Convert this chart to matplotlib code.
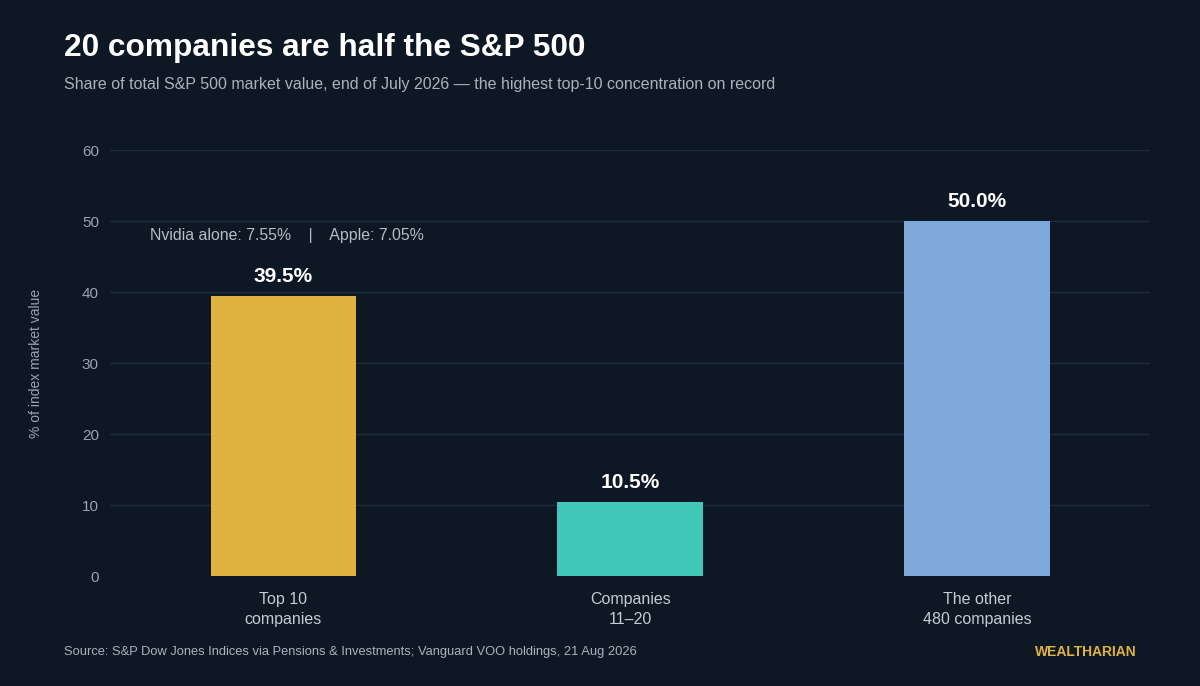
import matplotlib
matplotlib.use("Agg")
import matplotlib.pyplot as plt

plt.rcParams["font.family"] = ["Liberation Sans", "DejaVu Sans"]

CATS = ["Top 10\ncompanies", "Companies\n11\u201320", "The other\n480 companies"]
SHARE = [39.5, 10.5, 50.0]
COLOURS = ["#e0b240", "#40c9b9", "#7fa8db"]
BG = "#0e1724"

fig = plt.figure(figsize=(12, 6.86), dpi=100, facecolor=BG)
ax = fig.add_axes([0.0917, 0.160, 0.867, 0.621], facecolor=BG)

x = range(len(CATS))
ax.bar(x, SHARE, width=0.42, color=COLOURS, zorder=2)
for xi, v in zip(x, SHARE):
    ax.text(xi, v + 1.4, f"{v:.1f}%", ha="center", va="bottom", color="white",
            fontsize=15, fontweight="bold")

ax.set_xlim(-0.5, 2.5)
ax.set_ylim(0, 60)
ax.set_yticks(range(0, 61, 10))
ax.grid(axis="y", color="#1f2a3a", lw=1, zorder=0)
for s in ax.spines.values():
    s.set_visible(False)
ax.tick_params(length=0, colors="#9aa3b0", labelsize=11)
ax.tick_params(axis="y", pad=8)
ax.tick_params(axis="x", labelsize=11.5, colors="#c5cbd3", pad=11)
ax.set_xticks(list(x))
ax.set_xticklabels(CATS, linespacing=1.45)
ax.set_ylabel("% of index market value", color="#9aa3b0", fontsize=10, labelpad=28)

ax.text(-0.385, 48.0, "Nvidia alone: 7.55%    |    Apple: 7.05%", color="#b5bcc6",
        fontsize=11.4, ha="left", va="center")

fig.text(0.053, 0.93, "20 companies are half the S&P 500", color="white",
         fontsize=22.8, fontweight="bold", va="center")
fig.text(0.053, 0.877, "Share of total S&P 500 market value, end of July 2026 \u2014 the highest top-10 concentration on record",
         color="#aab2bd", fontsize=11.5, va="center")
fig.text(0.053, 0.049, "Source: S&P Dow Jones Indices via Pensions & Investments; Vanguard VOO holdings, 21 Aug 2026",
         color="#aab2bd", fontsize=9.3, va="center")
fig.text(0.947, 0.049, "WEALTHARIAN", color="#e0b240", fontsize=10, fontweight="bold",
         ha="right", va="center")

fig.savefig("out.png", facecolor=BG)
